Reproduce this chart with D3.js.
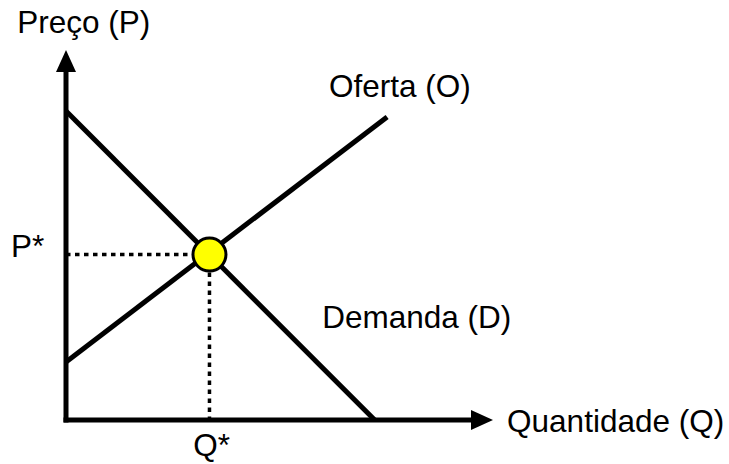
<!DOCTYPE html>
<html>
<head>
<meta charset="utf-8">
<style>
body { margin: 0; background: #fff; }
text { font-family: "Liberation Sans", Arial, sans-serif; font-size: 31.5px; fill: #000; }
.curve { stroke: #000; stroke-width: 5px; fill: none; }
.axis { stroke: #000; stroke-width: 5px; }
.guide { stroke: #000; stroke-width: 3.5px; stroke-dasharray: 4.5 4.5; }
</style>
<script src="https://d3js.org/d3.v7.min.js"></script>
</head>
<body>
<svg width="729" height="464"></svg>
<script>

// curves (quantity, price) on a 0-100 scale
var demand = [[0, 83.5], [72.3, 0]];
var supply = [[0, 15.7], [75.2, 81.9]];
var equilibrium = { q: 33.6, p: 44.7 };

var labels = [
  { text: "Preço (P)", q: -11.4, p: 104.6 },
  { text: "Oferta (O)", q: 61.6, p: 87.3 },
  { text: "Demanda (D)", q: 60.0, p: 24.9 },
  { text: "Quantidade (Q)", q: 103.3, p: -3.2 },
  { text: "P*", q: -12.9, p: 44.0 },
  { text: "Q*", q: 29.8, p: -9.8 }
];

var svg = d3.select("svg");

var x = d3.scaleLinear().domain([0, 100]).range([66, 493]);
var y = d3.scaleLinear().domain([0, 100]).range([420, 50]);

var line = d3.line()
    .x(function(d) { return x(d[0]); })
    .y(function(d) { return y(d[1]); });

// dotted guides
svg.append("line").attr("class", "guide")
    .attr("x1", x(0)).attr("y1", y(equilibrium.p))
    .attr("x2", x(equilibrium.q)).attr("y2", y(equilibrium.p));
svg.append("line").attr("class", "guide")
    .attr("x1", x(equilibrium.q)).attr("y1", y(equilibrium.p))
    .attr("x2", x(equilibrium.q)).attr("y2", y(0));

svg.append("path").attr("class", "curve").attr("d", line(demand));
svg.append("path").attr("class", "curve").attr("d", line(supply));

// axes with arrow heads
var head = 22, half = 10;
svg.append("line").attr("class", "axis")
    .attr("x1", x(0)).attr("y1", y(0) + 2.5)
    .attr("x2", x(0)).attr("y2", y(100) + head - 1);
svg.append("line").attr("class", "axis")
    .attr("x1", x(0) - 2.5).attr("y1", y(0))
    .attr("x2", x(100) - head + 1).attr("y2", y(0));

svg.append("path")
    .attr("d", "M" + x(0) + "," + y(100) + "L" + (x(0) - half) + "," + (y(100) + head) +
               "L" + (x(0) + half) + "," + (y(100) + head) + "Z")
    .attr("fill", "#000");
svg.append("path")
    .attr("d", "M" + x(100) + "," + y(0) + "L" + (x(100) - head) + "," + (y(0) - half) +
               "L" + (x(100) - head) + "," + (y(0) + half) + "Z")
    .attr("fill", "#000");

svg.append("circle")
    .attr("cx", x(equilibrium.q)).attr("cy", y(equilibrium.p))
    .attr("r", 16.5)
    .attr("fill", "#ffff00").attr("stroke", "#000").attr("stroke-width", 3);

svg.selectAll(".label")
    .data(labels)
    .enter().append("text")
    .attr("class", "label")
    .attr("x", function(d) { return x(d.q); })
    .attr("y", function(d) { return y(d.p); })
    .text(function(d) { return d.text; });

</script>
</body>
</html>
